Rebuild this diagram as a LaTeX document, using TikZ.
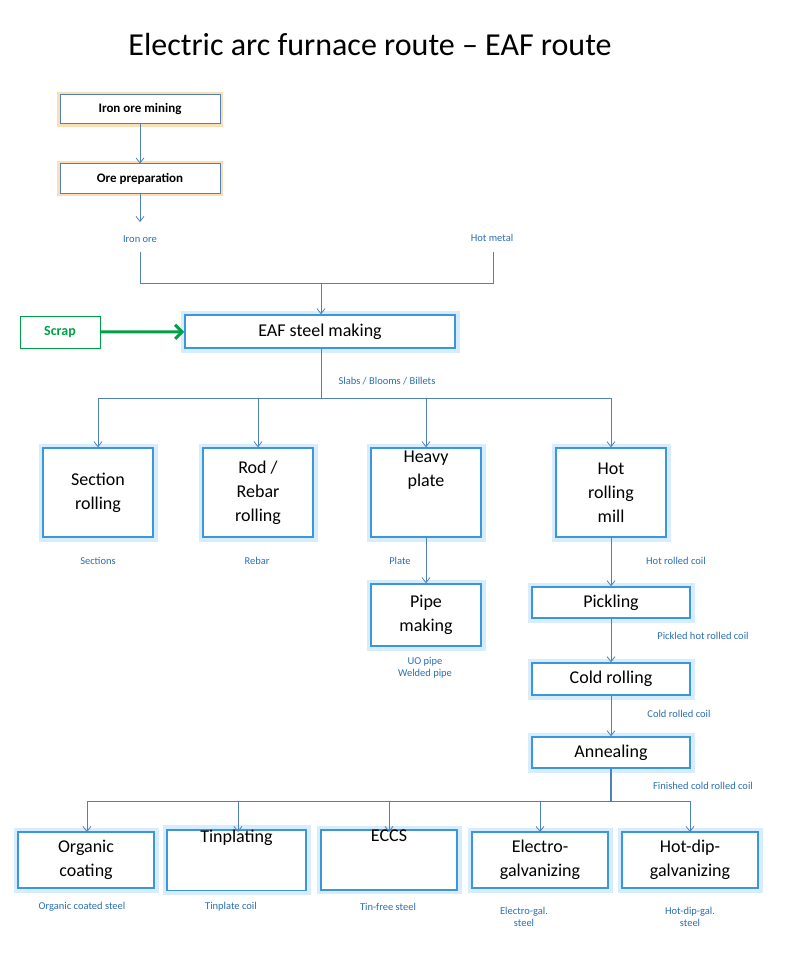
\documentclass[tikz,border=0pt]{standalone}
\usepackage{fontspec}
\setmainfont{Carlito}
\usetikzlibrary{arrows.meta}
\definecolor{ln}{RGB}{79,129,189}
\definecolor{lab}{RGB}{40,110,180}
\definecolor{bb}{RGB}{60,150,220}
\definecolor{gl}{RGB}{140,200,245}
\definecolor{og}{RGB}{250,200,130}
\definecolor{gr}{RGB}{0,160,70}
\begin{document}
\begin{tikzpicture}[x=1pt,y=-1pt,
 conn/.style={draw=ln,line width=0.8pt},
 arr/.style={conn,-{Straight Barb[length=5pt,width=8pt]}},
 lbl/.style={text=lab,font=\fontsize{10.5}{12}\selectfont,align=center},
 glowbox/.style={draw=bb,line width=1.5pt,fill=white,align=center,font=\fontsize{18}{24}\selectfont,inner sep=0pt,
   preaction={draw=gl,line width=9pt,opacity=0.35},postaction={draw=gl,line width=5pt,opacity=0.0}},
 orbox/.style={draw=ln,line width=1pt,fill=white,align=center,font=\bfseries\fontsize{13}{16}\selectfont,inner sep=0pt,
   preaction={draw=og,line width=6pt,opacity=0.6}}]
\useasboundingbox (0,0) rectangle (800,960);
\node[font=\fontsize{32}{38}\selectfont] (t) at (370,45) {Electric arc furnace route -- EAF route};
% top
\node[orbox,minimum width=160pt,minimum height=29pt] (mine) at (140,109.5) {Iron ore mining};
\node[orbox,minimum width=160pt,minimum height=29pt] (prep) at (140,178.5) {Ore preparation};
\node[lbl] (ore) at (140,239) {Iron ore};
\node[lbl] (hm) at (492,238) {Hot metal};
\draw[arr] (mine) -- (prep);
\draw[arr] (prep) -- (140,222);
\coordinate (j1) at (140,283); \coordinate (j2) at (493,283); \coordinate (jm) at (321,283);
\draw[conn] (140,252) -- (j1) -- (j2) -- (493,252);
\node[glowbox,minimum width=270pt,minimum height=33pt] (eaf) at (320,331.5) {EAF steel making};
\draw[arr] (jm) -- (eaf.north -| jm);
\node[draw=gr,line width=1pt,minimum width=80pt,minimum height=32pt,text=gr,font=\bfseries\fontsize{14}{16}\selectfont] (scrap) at (60,332) {Scrap};
\draw[draw=gr,line width=3pt,-{Straight Barb[length=7pt,width=14pt]}] (scrap) -- (eaf);
% level 2
\coordinate (h2) at (321,398);
\draw[conn] (eaf.south -| h2) -- (h2);
\node[lbl,anchor=west] (sbb) at (335,381) {Slabs / Blooms / Billets};
\draw[conn] (98,398) -- (611,398);
\node[glowbox,minimum width=110pt,minimum height=89pt] (sec) at (98,492.5) {Section\\rolling};
\node[glowbox,minimum width=110pt,minimum height=89pt] (rod) at (258,492.5) {Rod /\\Rebar\\rolling};
\node[glowbox,minimum width=110pt,minimum height=89pt] (hp) at (426,492.5) {Heavy\\plate\\[24pt]};
\node[glowbox,minimum width=110pt,minimum height=89pt] (hrm) at (611,492.5) {Hot\\rolling\\mill};
\foreach \n/\x in {sec/98,rod/258,hp/426,hrm/611} \draw[arr] (\x,398) -- (\n.north);
\node[lbl] at (98,561) {Sections};
\node[lbl] at (257,561) {Rebar};
\node[lbl] at (400,561) {Plate};
\node[lbl] at (676,561) {Hot rolled coil};
\node[glowbox,minimum width=110pt,minimum height=62pt] (pipe) at (426,615) {Pipe\\making};
\draw[arr] (hp) -- (pipe);
\node[lbl] at (425,668) {UO pipe\\Welded pipe};
\node[glowbox,minimum width=158pt,minimum height=31pt] (pick) at (611,602.5) {Pickling};
\node[glowbox,minimum width=158pt,minimum height=32pt] (cold) at (611,679) {Cold rolling};
\node[glowbox,minimum width=158pt,minimum height=31pt] (ann) at (611,752.5) {Annealing};
\draw[arr] (hrm) -- (pick);
\draw[arr] (pick) -- (cold);
\draw[arr] (cold) -- (ann);
\node[lbl] at (703,636) {Pickled hot rolled coil};
\node[lbl] at (679,714) {Cold rolled coil};
\node[lbl] at (703,786) {Finished cold rolled coil};
\coordinate (h3) at (611,801);
\draw[conn,line width=1.5pt] (ann) -- (h3);
\draw[conn] (87,801) -- (690,801);
\node[glowbox,minimum width=136pt,minimum height=56pt] (org) at (86,860) {Organic\\coating};
\node[glowbox,minimum width=139pt,minimum height=56pt] (tin) at (236.5,860) {Tinplating\\[24pt]};
\node[glowbox,minimum width=136pt,minimum height=56pt] (eccs) at (389,860) {ECCS\\[24pt]};
\node[glowbox,minimum width=136pt,minimum height=56pt] (elg) at (540,860) {Electro-\\galvanizing};
\node[glowbox,minimum width=136pt,minimum height=56pt] (hdg) at (690,860) {Hot-dip-\\galvanizing};
\foreach \n/\x in {org/87,tin/238,eccs/389,elg/540,hdg/690} \draw[arr] (\x,801) -- (\x,832);
\node[lbl] at (82,907) {Organic coated steel};
\node[lbl] at (231,907) {Tinplate coil};
\node[lbl] at (388,907) {Tin-free steel};
\node[lbl] at (524,916.5) {Electro-gal.\\steel};
\node[lbl] at (690,916.5) {Hot-dip-gal.\\steel};
\end{tikzpicture}
\end{document}
